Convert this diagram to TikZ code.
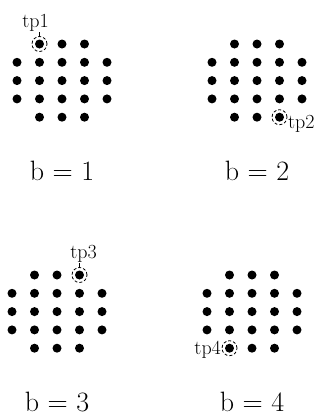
\documentclass[tikz,border=0pt]{standalone}
\usetikzlibrary{positioning}
\begin{document}
\begin{tikzpicture}[x=1pt, y=-1pt, node distance=3pt,
  dot/.style={circle, fill, inner sep=0pt, minimum size=9pt},
  tpring/.style={circle, draw, densely dashed, thick, inner sep=0pt, minimum size=15pt},
  tplabel/.style={font=\fontsize{20}{22}\selectfont, inner sep=0.5pt},
  caption/.style={font=\fontsize{28}{32}\selectfont, inner sep=1pt}]
  \useasboundingbox (0,0) rectangle (333,418);
  % one grid of dots for each value of b (corners left out)
  \foreach \b/\ox/\oy in {1/17/44, 2/212/44, 3/12/275, 4/207/275} {
    \foreach \r in {1,...,5} {
      \foreach \c in {1,...,5} {
        \pgfmathtruncatemacro\corner{(\r==1||\r==5)&&(\c==1||\c==5)}
        \ifnum\corner=0
          \node[dot] (g\b-\r-\c) at ({\ox+22.5*(\c-1)},{\oy+18.3*(\r-1)}) {};
        \fi
      }
    }
    \node[caption] (cap\b) at ([yshift=-54pt]g\b-5-3) {b = \b};
  }
  % marked points
  \node[tpring] (tp1) at (g1-1-2) {};
  \node[tplabel, above=4pt of tp1, xshift=-4pt] (tp1lbl) {tp1};
  \draw (tp1lbl.south -| tp1.north) -- (tp1);
  \node[tpring] (tp2) at (g2-5-4) {};
  \node[tplabel, right=0pt of tp2, yshift=-7pt] (tp2lbl) {tp2};
  \node[tpring] (tp3) at (g3-1-4) {};
  \node[tplabel, above=4pt of tp3, xshift=4pt] (tp3lbl) {tp3};
  \draw (tp3lbl.south -| tp3.north) -- (tp3);
  \node[tpring] (tp4) at (g4-5-2) {};
  \node[tplabel, left=0pt of tp4, yshift=-2pt] (tp4lbl) {tp4};
\end{tikzpicture}
\end{document}
